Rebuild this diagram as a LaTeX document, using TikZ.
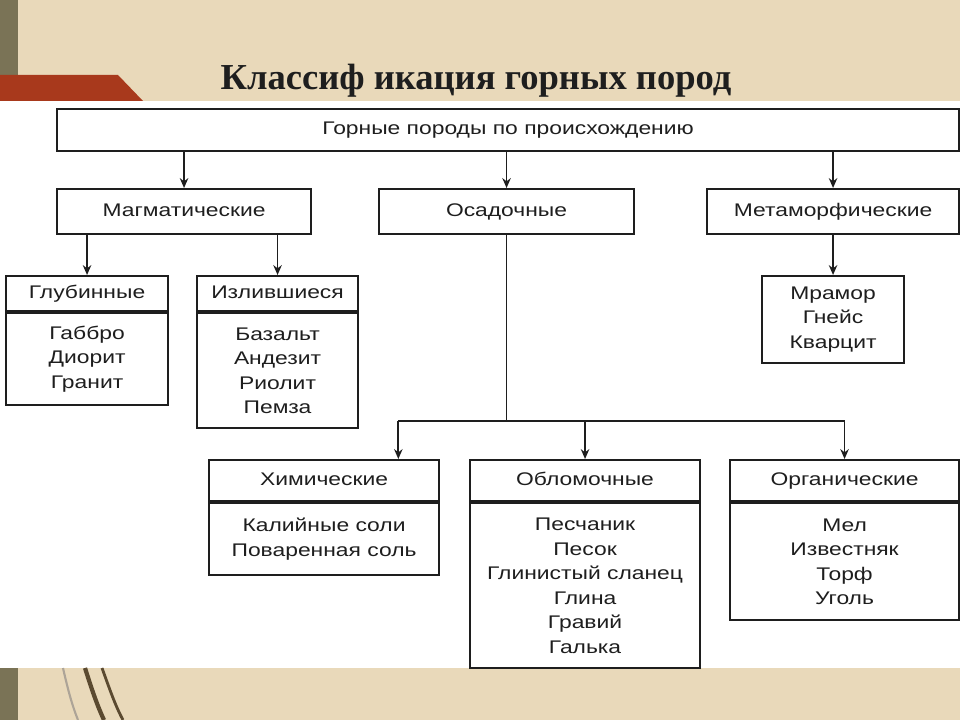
\documentclass[tikz,border=0pt]{standalone}
\usepackage{fontspec}
\setmainfont{Liberation Serif}
\newfontfamily\boxfont[FakeStretch=1.25]{Liberation Sans}
\usetikzlibrary{arrows.meta}
\usetikzlibrary{calc}

\definecolor{parchment}{HTML}{E9D9BA}
\definecolor{slate}{HTML}{7A7356}
\definecolor{rust}{HTML}{A8391C}
\definecolor{ink}{HTML}{1E1E1E}
\definecolor{twig}{HTML}{5B4A30}

\tikzset{
  rockbox/.style 2 args={draw=ink, line width=1.5pt, fill=white, anchor=north west,
    inner sep=0pt, minimum width=#1*0.025cm, minimum height=#2*0.025cm,
    font=\boxfont\fontsize{13}{17.4}\selectfont, text=ink, align=center},
  oneline/.style={text height=0.88em, text depth=0.2em},
  link/.style={draw=ink, line width=1.3pt},
  arr/.style={link, -{Stealth[length=7pt,width=6pt]}},
}

\begin{document}
\begin{tikzpicture}[x=0.025cm, y=-0.025cm]
    % Background
    \useasboundingbox (0,0) rectangle (960,720);
    \fill[parchment] (0,0) rectangle (960,720);
    \fill[white] (0,101) rectangle (960,668);
    \fill[slate] (0,0) rectangle (18,75);
    \fill[slate] (0,668) rectangle (18,720);
    \fill[rust] (0,75) -- (118,75) -- (143,101) -- (0,101) -- cycle;

    % Twigs
    \draw[twig!50, line width=1.5pt] (63,668) .. controls (68,690) and (72,705) .. (78,720);
    \draw[twig, line width=3pt] (85,668) .. controls (92,690) and (97,705) .. (104,720);
    \draw[twig, line width=2pt] (102,668) .. controls (110,690) and (115,705) .. (123,720);

    % Title
    \node[font=\bfseries\fontsize{26}{28}\selectfont, text=ink, anchor=base] (title) at (476,90) {Классиф икация горных пород};

    % Top level
    \node[rockbox={902}{42}, oneline] (origin) at (56,108) {Горные породы по происхождению};

    % Groups
    \node[rockbox={254}{45}, oneline] (magm) at (56,188) {Магматические};
    \node[rockbox={255}{45}, oneline] (osad) at (378,188) {Осадочные};
    \node[rockbox={252}{45}, oneline] (meta) at (706,188) {Метаморфические};

    % Magmatic rocks
    \node[rockbox={162}{35}, oneline] (glub) at (5,275) {Глубинные};
    \node[rockbox={162}{92}, anchor=north] (glubList) at (glub.south) {Габбро\\Диорит\\Гранит};
    \node[rockbox={161}{35}, oneline] (izl) at (196,275) {Излившиеся};
    \node[rockbox={161}{115}, anchor=north] (izlList) at (izl.south) {Базальт\\Андезит\\Риолит\\Пемза};

    % Metamorphic rocks
    \node[rockbox={142}{87}] (marm) at (761,275) {Мрамор\\Гнейс\\Кварцит};

    % Sedimentary rocks
    \node[rockbox={230}{41}, oneline] (chem) at (208,459) {Химические};
    \node[rockbox={230}{72}, anchor=north] (chemList) at (chem.south) {Калийные соли\\Поваренная соль};
    \node[rockbox={230}{41}, oneline] (oblom) at (469,459) {Обломочные};
    \node[rockbox={230}{165}, anchor=north] (oblomList) at (oblom.south) {Песчаник\\Песок\\Глинистый сланец\\Глина\\Гравий\\Галька};
    \node[rockbox={229}{41}, oneline] (org) at (729,459) {Органические};
    \node[rockbox={229}{117}, anchor=north] (orgList) at (org.south) {Мел\\Известняк\\Торф\\Уголь};

    % Connectors
    \draw[arr] (magm.north |- origin.south) -- (magm.north);
    \draw[arr] (osad.north |- origin.south) -- (osad.north);
    \draw[arr] (meta.north |- origin.south) -- (meta.north);
    \draw[arr] (glub.north |- magm.south) -- (glub.north);
    \draw[arr] (izl.north |- magm.south) -- (izl.north);
    \draw[arr] (meta.south) -- (meta.south |- marm.north);

    \coordinate (fork) at (osad.south |- 0,421);
    \coordinate (chemIn) at ($(chem.north west)!0.82!(chem.north east)$);
    \draw[link] (osad.south) -- (fork);
    \draw[link] (fork -| chemIn) -- (fork -| org.north);
    \draw[arr] (fork -| chemIn) -- (chemIn);
    \draw[arr] (fork -| oblom.north) -- (oblom.north);
    \draw[arr] (fork -| org.north) -- (org.north);
\end{tikzpicture}
\end{document}
